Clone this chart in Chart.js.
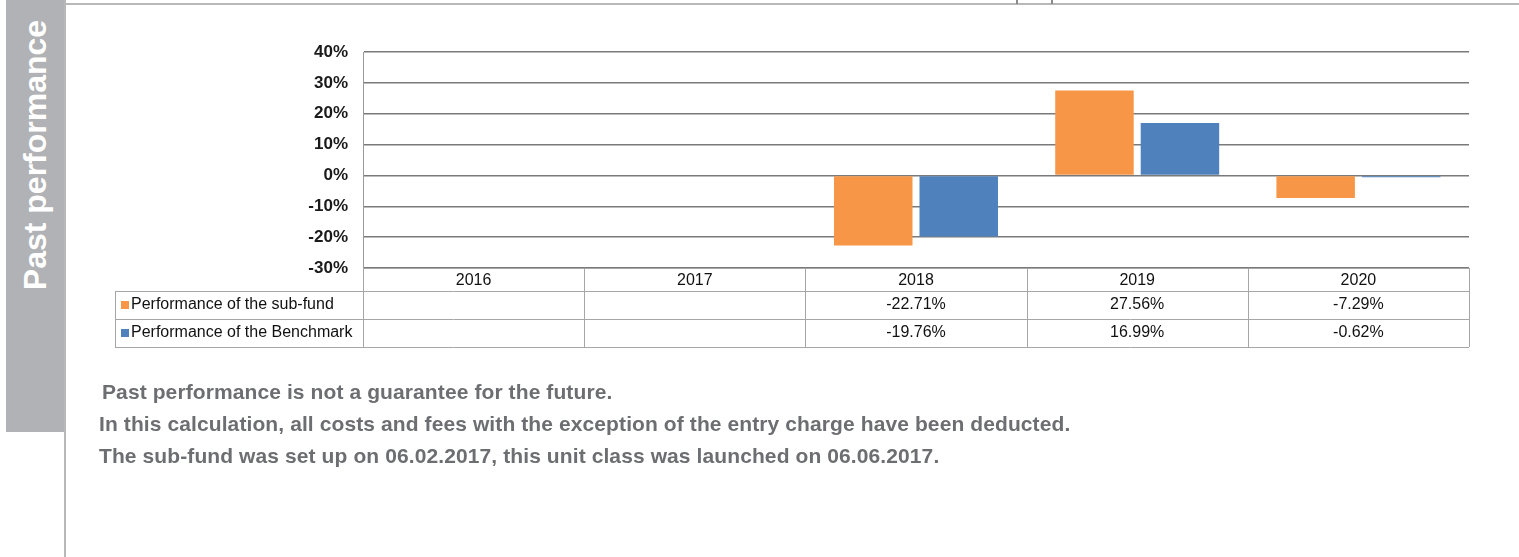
<!DOCTYPE html>
<html lang="en">
<head>
  <meta charset="UTF-8">
  <title>Past performance</title>
  <script src="https://cdn.jsdelivr.net/npm/chart.js"></script>
  <style>
    body {
      margin: 0;
      background: #ffffff;
      font-family: "Liberation Sans", Arial, sans-serif;
    }
    .page {
      position: relative;
      width: 1519px;
      height: 557px;
      overflow: hidden;
    }
    /* grey tab on the left */
    .side {
      position: absolute;
      left: 6px;
      top: 0;
      width: 58px;
      height: 432px;
      background: #b1b2b5;
    }
    .side span {
      position: absolute;
      left: 29px;
      top: 155px;
      transform: translate(-50%, -50%) rotate(-90deg);
      white-space: nowrap;
      color: #ffffff;
      font-weight: bold;
      font-size: 32px;
    }
    .vline {
      position: absolute;
      left: 64px;
      top: 0;
      width: 2px;
      height: 557px;
      background: #b8b8b8;
    }
    .hline {
      position: absolute;
      left: 64px;
      top: 3px;
      width: 1455px;
      height: 2px;
      background: #b8b8b8;
    }
    .tick {
      position: absolute;
      top: 0;
      width: 2px;
      height: 4px;
      background: #8a8a8a;
    }
    .note {
      position: absolute;
      color: #6d6e71;
      font-weight: bold;
      font-size: 21px;
      letter-spacing: 0.1px;
      line-height: 22px;
      white-space: nowrap;
    }
    canvas {
      position: absolute;
      left: 0;
      top: 0;
    }
  </style>
</head>
<body>

<div class="page">
  <div class="side"><span>Past performance</span></div>
  <div class="vline"></div>
  <div class="hline"></div>
  <div class="tick" style="left:1016px"></div>
  <div class="tick" style="left:1051px"></div>

  <canvas id="perfChart" width="1519" height="557"></canvas>

  <div class="note" style="left:102px; top:381px">Past performance is not a guarantee for the future.</div>
  <div class="note" style="left:99px; top:413px">In this calculation, all costs and fees with the exception of the entry charge have been deducted.</div>
  <div class="note" style="left:99px; top:445px">The sub-fund was set up on 06.02.2017, this unit class was launched on 06.06.2017.</div>
</div>

<script>
  // данные
  const years = ['2016', '2017', '2018', '2019', '2020'];
  const subFund = [null, null, -22.71, 27.56, -7.29];
  const benchmark = [null, null, -19.76, 16.99, -0.62];
  const yTicks = [-30, -20, -10, 0, 10, 20, 30, 40];

  const seriesNames = ['Performance of the sub-fund', 'Performance of the Benchmark'];
  const seriesColors = ['#f79646', '#4f81bd'];

  // таблица значений под графиком
  const dataTable = {
    id: 'dataTable',
    afterDraw(chart) {
      const ctx = chart.ctx;
      const x = chart.scales.x;
      const area = chart.chartArea;
      const n = years.length;
      const w = (x.right - x.left) / n;
      const top = area.bottom;
      const rowY = [top, top + 23, top + 51, top + 79];
      const labelLeft = 115;

      ctx.save();
      ctx.strokeStyle = '#a6a6a6';
      ctx.lineWidth = 1;
      ctx.beginPath();
      // horizontal lines
      ctx.moveTo(x.left, rowY[0] + 0.5); ctx.lineTo(x.right, rowY[0] + 0.5);
      for (let i = 1; i < rowY.length; i++) {
        ctx.moveTo(labelLeft, rowY[i] + 0.5);
        ctx.lineTo(x.right, rowY[i] + 0.5);
      }
      // vertical lines
      ctx.moveTo(labelLeft + 0.5, rowY[1]); ctx.lineTo(labelLeft + 0.5, rowY[3]);
      for (let i = 0; i <= n; i++) {
        const px = Math.round(x.left + i * w) + 0.5;
        ctx.moveTo(px, rowY[0]); ctx.lineTo(px, rowY[3]);
      }
      ctx.stroke();

      ctx.fillStyle = '#111111';
      ctx.font = '16px "Liberation Sans", Arial, sans-serif';
      ctx.textAlign = 'center';
      ctx.textBaseline = 'middle';
      years.forEach((yr, i) => {
        const cx = x.getPixelForValue(i);
        ctx.fillText(yr, cx, (rowY[0] + rowY[1]) / 2 + 1);
        chart.data.datasets.forEach((ds, j) => {
          const v = ds.data[i];
          if (v !== null) {
            ctx.fillText(v.toFixed(2) + '%', cx, (rowY[j + 1] + rowY[j + 2]) / 2);
          }
        });
      });

      // legend keys in the first column
      ctx.textAlign = 'left';
      chart.data.datasets.forEach((ds, j) => {
        const cy = (rowY[j + 1] + rowY[j + 2]) / 2;
        ctx.fillStyle = ds.backgroundColor;
        ctx.fillRect(labelLeft + 6, cy - 4, 8, 8);
        ctx.fillStyle = '#111111';
        ctx.fillText(ds.label, labelLeft + 16, cy);
      });
      ctx.restore();
    }
  };

  const ctx = document.getElementById('perfChart').getContext('2d');
  const perfChart = new Chart(ctx, {
    type: 'bar',
    data: {
      labels: years,
      datasets: [
        { label: seriesNames[0], data: subFund, backgroundColor: seriesColors[0] },
        { label: seriesNames[1], data: benchmark, backgroundColor: seriesColors[1] }
      ]
    },
    options: {
      responsive: false,
      animation: false,
      devicePixelRatio: 1,
      categoryPercentage: 0.773,
      barPercentage: 0.918,
      layout: {
        padding: { top: 52, bottom: 289, left: 0, right: 50 }
      },
      plugins: {
        legend: { display: false },
        tooltip: { enabled: false }
      },
      scales: {
        x: {
          display: false
        },
        y: {
          min: -30,
          max: 40,
          afterFit(scale) { scale.width = 363; },
          afterBuildTicks(scale) { scale.ticks = yTicks.map(v => ({ value: v })); },
          grid: {
            color: '#7a7a7a',
            lineWidth: 1.5,
            drawTicks: false
          },
          border: { display: true, color: '#9a9a9a', width: 1 },
          ticks: {
            padding: 15,
            color: '#1a1a1a',
            font: { family: '"Liberation Sans", Arial, sans-serif', size: 17, weight: 'bold' },
            callback: v => v + '%'
          }
        }
      }
    },
    plugins: [dataTable]
  });
</script>

</body>
</html>
